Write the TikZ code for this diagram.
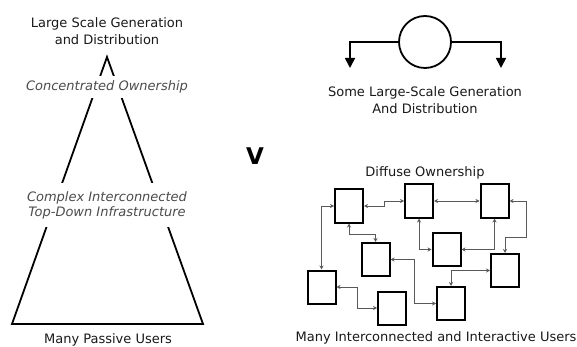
\documentclass[tikz,border=0pt]{standalone}
\usepackage{fontspec}
\setmainfont{DejaVu Sans}
\usetikzlibrary{calc,positioning,arrows.meta}

\begin{document}
\begin{tikzpicture}[x=1pt,y=-1pt,
  lbl/.style={font=\fontsize{13}{17}\selectfont,text=black!90,align=center,inner sep=0pt},
  slant/.style={font=\fontsize{13}{15}\selectfont\itshape,text=black!70,align=center,fill=white,inner xsep=2pt},
  user/.style={draw=black,line width=2pt,minimum width=28pt,minimum height=33pt,inner sep=0pt},
  link/.style={draw=black!65,line width=0.8pt,{Stealth[length=4pt,width=4pt]}-{Stealth[length=4pt,width=4pt]}}]
\useasboundingbox (0,0) rectangle (577,347);
% define pyramid corners
\coordinate (T) at (107,57);
\coordinate (BL) at (12,324);
\coordinate (BR) at (203,324);
% draw pyramid
\draw[line width=1.8pt] (BL) -- (T) -- (BR) -- cycle;
% labels on the pyramid
\node[lbl] (gen) at (107,31) {Large Scale Generation\\and Distribution};
\node[slant,minimum height=22pt] (own) at (107,87) {Concentrated Ownership};
\node[slant,minimum height=44pt] (infra) at (107,205) {Complex Interconnected\\Top-Down Infrastructure};
\node[lbl] (passive) at (108,340) {Many Passive Users};
% versus
\node[font=\fontsize{23}{23}\selectfont\bfseries] (vs) at (255,156) {V};
% large plant
\node[draw,circle,line width=1.8pt,minimum size=52pt,inner sep=0pt] (plant) at (425,42) {};
\coordinate (wdrop) at (350,68);
\coordinate (edrop) at (501,68);
\draw[line width=1.6pt,-{Triangle[length=10pt,width=10pt]}] (plant.west) -| (wdrop);
\draw[line width=1.6pt,-{Triangle[length=10pt,width=10pt]}] (plant.east) -| (edrop);
\node[lbl] (some) at (425,100) {Some Large-Scale Generation\\And Distribution};
% many users
\node[lbl] (diffuse) at (425,173) {Diffuse Ownership};
\node[user] (u1) at (349,206) {};
\node[user] (u2) at (419,201) {};
\node[user] (u3) at (494.5,201) {};
\node[user] (u4) at (446.5,249.5) {};
\node[user] (u5) at (375.5,259.5) {};
\node[user] (u6) at (505,270.5) {};
\node[user] (u7) at (321.5,287) {};
\node[user] (u8) at (392,308) {};
\node[user] (u9) at (451,303.5) {};
% connect users
\draw[link] (u1.west) -| (u7.north);
\draw[link] (u1.east) -- ++(20,0) |- (u2.west);
\draw[link] (u2.east) -- (u3.west);
\draw[link] (u3.east) -- ++(17,0) -- ++(0,36) -| (u6.north);
\draw[link] (u2.south) |- (u4.west);
\draw[link] (u4.east) -| (u3.south);
\draw[link] (u1.south) -- ++(0,11) -| (u5.north);
\draw[link] (u5.east) -- ++(24,0) |- (u9.west);
\draw[link] (u7.east) -- ++(21,0) |- (u8.west);
\draw[link] (u6.west) -| (u9.north);
\node[lbl] (inter) at (436,338) {Many Interconnected and Interactive Users};
\end{tikzpicture}
\end{document}
